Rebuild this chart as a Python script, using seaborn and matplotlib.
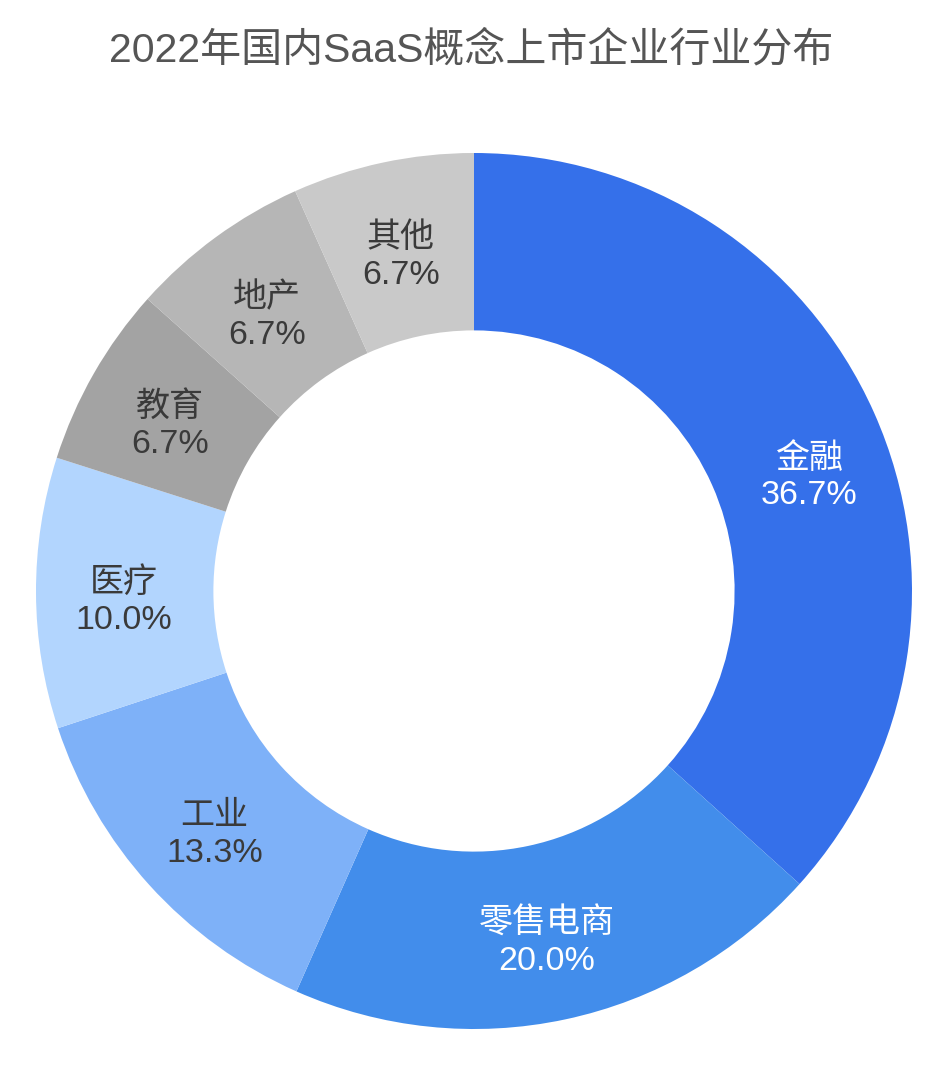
import matplotlib
matplotlib.use("Agg")
import matplotlib.pyplot as plt
import seaborn as sns

# data
industries = ["金融", "零售电商", "工业", "医疗", "教育", "地产", "其他"]
shares = [36.7, 20.0, 13.3, 10.0, 6.7, 6.7, 6.7]
slice_colors = ["#3570EA", "#428DEB", "#7EB1F8", "#B2D5FE", "#A3A3A3", "#B6B6B6", "#C9C9C9"]
label_colors = ["white", "white", "#3a3a3a", "#3a3a3a", "#3a3a3a", "#3a3a3a", "#3a3a3a"]
title = "2022年国内SaaS概念上市企业行业分布"

sns.set_theme(style="white")
plt.rcParams['font.family'] = ['Liberation Sans', 'Noto Sans CJK SC', 'DejaVu Sans']

W, H = 946, 1084
fig = plt.figure(figsize=(W / 100, H / 100), dpi=100)
fig.patch.set_facecolor("white")

cx, cy, r = 474, 591, 438
ax = fig.add_axes([(cx - r) / W, (H - cy - r) / H, 2 * r / W, 2 * r / H])

pal = sns.color_palette(slice_colors)
labels_iter = iter(industries)


def fmt(p):
    return "%s\n%.1f%%" % (next(labels_iter), p)


wedges, texts, autotexts = ax.pie(
    shares, colors=pal, startangle=90, counterclock=False,
    autopct=fmt, pctdistance=0.8,
    wedgeprops=dict(width=0.405, edgecolor="none"),
    textprops=dict(fontsize=24.5, linespacing=1.25),
)
# labels sit a little lower in the reference; the big one a bit more
for i, (t, c) in enumerate(zip(autotexts, label_colors)):
    t.set_color(c)
    x, y = t.get_position()
    if i == 0:
        t.set_position((x + 0.035, y - 0.065))
    else:
        t.set_position((x, y - 0.02))

ax.set_xlim(-1, 1)
ax.set_ylim(-1, 1)
ax.set_aspect("equal")
ax.axis("off")

fig.text(471 / W, 1 - 50 / H, title, ha="center", va="center",
         fontsize=29.5, color="#555555")

plt.savefig("out.png", dpi=100, facecolor="white")
